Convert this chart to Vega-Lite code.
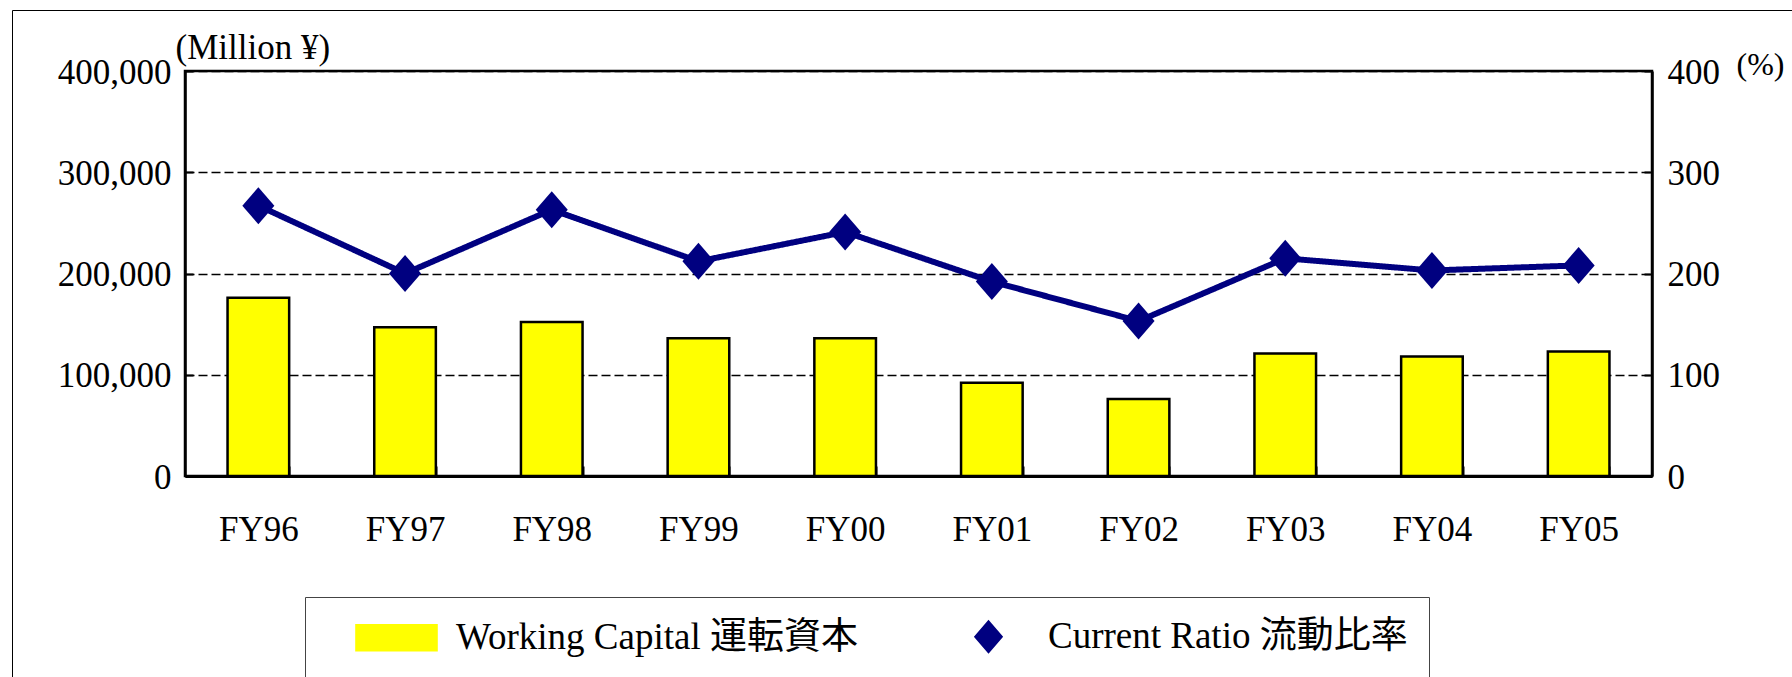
{
  "$schema": "https://vega.github.io/schema/vega-lite/v6.json",
  "width": 1467,
  "height": 405,
  "autosize": {"type": "none"},
  "padding": {"left": 185, "top": 71, "right": 140, "bottom": 201},
  "background": "white",
  "config": {
    "view": {"stroke": "black", "strokeWidth": 2.5},
    "font": "Liberation Serif, Noto Sans CJK JP",
    "axis": {
      "labelFont": "Liberation Serif, Noto Sans CJK JP",
      "titleFont": "Liberation Serif, Noto Sans CJK JP",
      "labelColor": "black",
      "titleColor": "black",
      "titleFontWeight": "normal",
      "domainColor": "black",
      "tickColor": "black"
    },
    "legend": {
      "labelFont": "Liberation Serif, Noto Sans CJK JP",
      "labelColor": "black"
    }
  },
  "data": {
    "values": [
      {"year": "FY96", "wc": 176000, "cr": 267},
      {"year": "FY97", "wc": 147000, "cr": 200},
      {"year": "FY98", "wc": 152000, "cr": 263},
      {"year": "FY99", "wc": 136000, "cr": 212},
      {"year": "FY00", "wc": 136000, "cr": 241},
      {"year": "FY01", "wc": 92000, "cr": 192},
      {"year": "FY02", "wc": 76000, "cr": 153},
      {"year": "FY03", "wc": 121000, "cr": 215},
      {"year": "FY04", "wc": 118000, "cr": 203},
      {"year": "FY05", "wc": 123000, "cr": 208}
    ]
  },
  "encoding": {
    "x": {
      "field": "year",
      "type": "ordinal",
      "sort": null,
      "scale": {"paddingInner": 0.58, "paddingOuter": 0.29},
      "axis": {
        "title": null,
        "labelAngle": 0,
        "labelFontSize": 35,
        "labelPadding": 46,
        "tickSize": -10,
        "tickWidth": 2,
        "tickBand": "extent",
        "domainWidth": 3,
        "grid": false
      }
    }
  },
  "layer": [
    {
      "mark": {"type": "bar", "stroke": "black", "strokeWidth": 2.5},
      "encoding": {
        "y": {
          "field": "wc",
          "type": "quantitative",
          "scale": {"domain": [0, 400000]},
          "axis": {
            "orient": "left",
            "values": [0, 100000, 200000, 300000, 400000],
            "format": ",d",
            "labelFontSize": 35,
            "labelPadding": 22,
            "labelOffset": 1,
            "tickSize": -8,
            "tickWidth": 2,
            "domainWidth": 2.5,
            "grid": true,
            "gridColor": "black",
            "gridDash": [9, 4],
            "gridWidth": 1.5,
            "gridOpacity": 1,
            "title": "(Million ¥)",
            "titleAngle": 0,
            "titleX": -10,
            "titleY": -24,
            "titleAlign": "left",
            "titleBaseline": "middle",
            "titleFontSize": 35
          }
        },
        "color": {
          "datum": "Working Capital 運転資本",
          "type": "nominal",
          "scale": {
            "domain": ["Working Capital 運転資本", "Current Ratio 流動比率"],
            "range": ["#FFFF00", "#000080"]
          },
          "legend": {
            "orient": "none",
            "legendX": 120,
            "legendY": 526,
            "direction": "horizontal",
            "columns": 2,
            "title": null,
            "padding": 21,
            "strokeColor": "#444444",
            "fillColor": "white",
            "labelFontSize": 37,
            "labelOffset": 41,
            "symbolOffset": 52,
            "columnPadding": 60,
            "symbolSize": 900,
            "symbolStrokeColor": "black",
            "symbolStrokeWidth": 2.5,
            "labelLimit": 600,
            "encode": {
              "legend": {"strokeWidth": {"value": 1.5}}
            }
          }
        }
      }
    },
    {
      "layer": [
        {
          "mark": {"type": "line", "strokeWidth": 6},
          "encoding": {
            "y": {
              "field": "cr",
              "type": "quantitative",
              "scale": {"domain": [0, 400]},
              "axis": {
                "orient": "right",
                "values": [0, 100, 200, 300, 400],
                "labelFontSize": 35,
                "labelPadding": 23,
                "labelOffset": 1,
                "tickSize": -8,
                "tickWidth": 2,
                "domainWidth": 2.5,
                "grid": false,
                "title": "(%)",
                "titleAngle": 0,
                "titleX": 84,
                "titleY": -7,
                "titleAlign": "left",
                "titleBaseline": "middle",
                "titleFontSize": 32
              }
            },
            "color": {"datum": "Current Ratio 流動比率", "type": "nominal"},
            "strokeDash": {
              "datum": "frame",
              "type": "nominal",
              "scale": {"range": [[1, 0]]},
              "legend": {
                "orient": "none",
                "legendX": -173,
                "legendY": -61,
                "padding": 1000,
                "title": null,
                "labelExpr": "''",
                "symbolOpacity": 0,
                "strokeColor": "black",
                "fillColor": null,
                "encode": {"legend": {"strokeWidth": {"value": 2}}}
              }
            }
          }
        },
        {
          "mark": {
            "type": "point",
            "filled": true,
            "opacity": 1,
            "size": 1369
          },
          "encoding": {
            "y": {
              "field": "cr",
              "type": "quantitative",
              "scale": {"domain": [0, 400]},
              "axis": {
                "orient": "right",
                "values": [0, 100, 200, 300, 400],
                "labelFontSize": 35,
                "labelPadding": 23,
                "labelOffset": 1,
                "tickSize": -8,
                "tickWidth": 2,
                "domainWidth": 2.5,
                "grid": false,
                "title": "(%)",
                "titleAngle": 0,
                "titleX": 84,
                "titleY": -7,
                "titleAlign": "left",
                "titleBaseline": "middle",
                "titleFontSize": 32
              }
            },
            "color": {"datum": "Current Ratio 流動比率", "type": "nominal"},
            "shape": {
              "datum": "Current Ratio 流動比率",
              "type": "nominal",
              "scale": {
                "domain": ["Working Capital 運転資本", "Current Ratio 流動比率"],
                "range": [
                  "M-2.67,-0.83L2.67,-0.83L2.67,0.83L-2.67,0.83Z",
                  "M-0.866,0L0,-1L0.866,0L0,1Z"
                ]
              }
            }
          }
        }
      ]
    }
  ],
  "resolve": {"scale": {"y": "independent"}}
}
